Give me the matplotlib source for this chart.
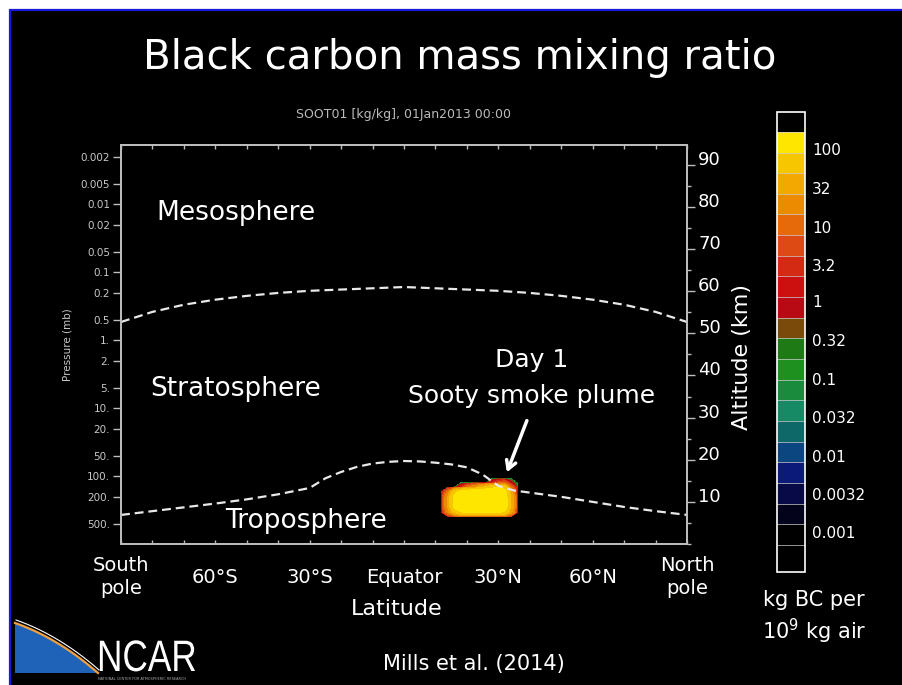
import numpy as np
import matplotlib
matplotlib.use("Agg")
import matplotlib.pyplot as plt
from matplotlib.colors import ListedColormap, BoundaryNorm
from matplotlib.cm import ScalarMappable
from matplotlib.patches import Rectangle, Polygon, PathPatch
from matplotlib.ticker import MultipleLocator, NullLocator
from matplotlib.textpath import TextPath
from matplotlib.font_manager import FontProperties
from matplotlib.transforms import Affine2D

plt.rcParams['font.family'] = ['DejaVu Sans']

W, H = 902, 685
SCALE_HEIGHT = 7.0                 # km, used to tie altitude to log-pressure
P_SURF, P_TOP = 1000.0, 0.00133    # mb

# axis ticks
lat_ticks = [-90, -60, -30, 0, 30, 60, 90]
lat_labels = ['South\npole', '60°S', '30°S', 'Equator', '30°N', '60°N', 'North\npole']
p_ticks = [0.002, 0.005, 0.01, 0.02, 0.05, 0.1, 0.2, 0.5, 1, 2, 5, 10, 20, 50, 100, 200, 500]
p_labels = ['0.002', '0.005', '0.01', '0.02', '0.05', '0.1', '0.2', '0.5', '1.', '2.',
            '5.', '10.', '20.', '50.', '100.', '200.', '500.']
alt_ticks = [10, 20, 30, 40, 50, 60, 70, 80, 90]

# stratopause and tropopause height (km) vs latitude
strat_lat = [-90, -80, -70, -60, -50, -40, -30, -20, -10, 0, 10, 20, 30, 40, 50, 60, 70, 80, 90]
strat_alt = [52.7, 55.1, 56.8, 58.0, 58.9, 59.6, 60.1, 60.4, 60.7, 61.0,
             60.7, 60.4, 60.1, 59.6, 58.9, 58.0, 56.8, 55.1, 52.7]
trop_lat = [-90, -80, -70, -60, -50, -40, -30, -25, -20, -15, -10, -5, 0,
            5, 10, 15, 20, 25, 30, 35, 40, 50, 60, 70, 80, 90]
trop_alt = [6.9, 7.8, 8.7, 9.6, 10.6, 11.8, 13.3, 15.6, 17.1, 18.3, 19.1, 19.5, 19.7,
            19.6, 19.3, 18.9, 18.2, 16.5, 13.8, 12.7, 12.2, 11.2, 10.0, 8.8, 7.8, 6.9]

# BC mixing ratio on day 1 (kg BC per 1e9 kg air)
plume_lat = [10, 12, 14, 16, 18, 20, 22, 24, 26, 28, 30, 32, 34, 36, 38, 40]
plume_alt = [5.5, 6.5, 7.5, 8.5, 9.5, 10.5, 11.5, 12.5, 13.5, 14.5, 15.5]
plume_bc = [
    [0, 0, 0, 0, 0, 0, 0, 0, 0, 0, 0, 0, 0, 0, 0, 0],
    [0, 0, 0, 0, 0, 0, 0, 0, 0, 0, 0, 0, 0, 0, 0, 0],
    [0, 0, 15, 50, 80, 90, 90, 90, 90, 90, 90, 80, 30, 0, 0, 0],
    [0, 0, 25, 90, 130, 140, 140, 140, 140, 140, 135, 115, 40, 0, 0, 0],
    [0, 0, 30, 100, 140, 150, 150, 150, 150, 150, 145, 120, 45, 0, 0, 0],
    [0, 0, 30, 100, 140, 150, 150, 150, 150, 150, 145, 120, 45, 0, 0, 0],
    [0, 0, 25, 95, 135, 145, 145, 145, 145, 145, 140, 115, 40, 0, 0, 0],
    [0, 0, 10, 60, 100, 120, 125, 130, 130, 130, 125, 105, 30, 0, 0, 0],
    [0, 0, 0, 0, 2, 10, 20, 35, 55, 75, 85, 70, 10, 0, 0, 0],
    [0, 0, 0, 0, 0, 0, 0, 0, 0, 2, 6, 8, 1, 0, 0, 0],
    [0, 0, 0, 0, 0, 0, 0, 0, 0, 0, 0, 0, 0, 0, 0, 0],
]

# contour levels and colours (bottom to top)
levels = [0.00065, 0.0012, 0.0023, 0.0042, 0.0079, 0.015, 0.027, 0.051, 0.095, 0.18,
          0.33, 0.61, 1.1, 2.1, 4.0, 7.4, 14, 26, 48, 88, 165]
band_colors = ['#000000', '#03031c', '#070a46', '#0b1a78', '#0c4680', '#0f6868',
               '#168a64', '#1a8a3c', '#1e9020', '#1e7a14', '#7a4a0a', '#b80a14',
               '#cc1010', '#d42a14', '#de4a14', '#e66a0a', '#ec8a00', '#f2a800',
               '#f7c600', '#ffe600']
cbar_ticks = [0.001, 0.0032, 0.01, 0.032, 0.1, 0.32, 1, 3.2, 10, 32, 100]
cbar_labels = ['0.001', '0.0032', '0.01', '0.032', '0.1', '0.32', '1', '3.2', '10', '32', '100']

fig = plt.figure(figsize=(W / 100, H / 100), dpi=100)
fig.patch.set_facecolor('white')

# background panel in pixel coordinates, blue edge only on top and left
bg = fig.add_axes([0, 0, 1, 1])
bg.set_xlim(0, W)
bg.set_ylim(H, 0)
bg.axis('off')
bg.add_patch(Rectangle((10, 10), W, H, facecolor='black', edgecolor='none'))
bg.plot([10, 10, W + 5], [H + 5, 10, 10], color='#1a1ad8', lw=1.6,
        solid_joinstyle='miter')

GRAY = '#bdbdbd'

ax = fig.add_axes([121 / W, 1 - 544 / H, 566 / W, 399 / H])
ax.set_facecolor('none')
ax.set_xlim(-90, 90)
ax.set_yscale('log')
ax.set_ylim(P_SURF, P_TOP)
ax.set_yticks(p_ticks)
ax.set_yticklabels(p_labels)
ax.yaxis.set_minor_locator(NullLocator())
ax.set_xticks(lat_ticks)
ax.set_xticklabels(lat_labels)
ax.xaxis.set_minor_locator(MultipleLocator(10))
ax.tick_params(axis='y', which='major', direction='out', length=6, width=1,
               color=GRAY, labelsize=7.5, labelcolor='#c8c8c8', pad=2)
ax.tick_params(axis='x', which='both', direction='in', length=3, width=1, top=True,
               color=GRAY, labelsize=14, labelcolor='white', pad=23.8)
for lbl in ax.get_xticklabels():
    lbl.set_verticalalignment('center')
    lbl.set_linespacing(1.3)
for sp in ax.spines.values():
    sp.set_color(GRAY)
    sp.set_linewidth(1.3)

# altitude axis on the right
ax2 = ax.twinx()
ax2.set_ylim(0, SCALE_HEIGHT * np.log(P_SURF / P_TOP))
ax2.set_yticks(alt_ticks)
ax2.yaxis.set_minor_locator(MultipleLocator(5))
ax2.tick_params(axis='y', which='major', direction='out', length=6, width=1,
                color=GRAY, labelsize=13, labelcolor='white', pad=2)
ax2.tick_params(axis='y', which='minor', direction='out', length=3, width=1, color=GRAY)
for lbl in ax2.get_yticklabels():
    lbl.set_verticalalignment('baseline')
for sp in ax2.spines.values():
    sp.set_color(GRAY)
    sp.set_linewidth(1.3)

cmap = ListedColormap(band_colors)
cmap.set_over('black')
cmap.set_under('black')
norm = BoundaryNorm(levels, cmap.N)

ax2.contourf(plume_lat, plume_alt, np.array(plume_bc), levels=levels, cmap=cmap, norm=norm)
ax2.plot(strat_lat, strat_alt, color='#e8e8e8', lw=1.6, dashes=(4, 2.2))
ax2.plot(trop_lat, trop_alt, color='#e8e8e8', lw=1.6, dashes=(4, 2.2))
ax2.annotate('', xy=(32.4, 16.4), xytext=(39.4, 29.9),
             arrowprops=dict(arrowstyle='->,head_length=0.6,head_width=0.35',
                             color='white', lw=2.5))

# colour bar
cax = fig.add_axes([777 / W, 1 - 572 / H, 28 / W, 460 / H])
cb = fig.colorbar(ScalarMappable(norm=norm, cmap=cmap), cax=cax, extend='both',
                  extendrect=True, extendfrac=(0.065, 0.048), drawedges=True,
                  ticks=cbar_ticks)
cb.set_ticklabels(cbar_labels)
cb.outline.set_edgecolor('white')
cb.outline.set_linewidth(1.2)
cb.dividers.set_color('#cfcfcf')
cb.dividers.set_linewidth(0.5)
cax.tick_params(length=0, labelsize=11, labelcolor='white', pad=5)

# texts
txt = dict(ha='center', va='center', color='white')
bg.text(460, 58, 'Black carbon mass mixing ratio', fontsize=29, **txt)
bg.text(404, 114, 'SOOT01 [kg/kg], 01Jan2013 00:00', fontsize=9, ha='center',
        va='center', color='#bbbbbb')
bg.text(68, 345, 'Pressure (mb)', fontsize=7.5, rotation=90, ha='center', va='center',
        color='#c8c8c8')
bg.text(742, 357, 'Altitude (km)', fontsize=16, rotation=90, **txt)
bg.text(397, 609, 'Latitude', fontsize=16, **txt)
bg.text(236, 213, 'Mesosphere', fontsize=19, **txt)
bg.text(236, 389, 'Stratosphere', fontsize=19, **txt)
bg.text(306, 521, 'Troposphere', fontsize=19, **txt)
bg.text(532, 360, 'Day 1', fontsize=18, **txt)
bg.text(532, 396, 'Sooty smoke plume', fontsize=18, **txt)
bg.text(814, 600, 'kg BC per', fontsize=15, **txt)
bg.text(814, 631, '10$^9$ kg air', fontsize=15, **txt)
bg.text(474, 664, 'Mills et al. (2014)', fontsize=15, **txt)

# NCAR logo: blue swoosh plus narrow wordmark
t = np.linspace(0, 1, 40)
p0, pc, p2 = np.array([15, 623]), np.array([58, 638]), np.array([98, 673])
edge = ((1 - t) ** 2)[:, None] * p0 + (2 * t * (1 - t))[:, None] * pc + (t ** 2)[:, None] * p2
bg.add_patch(Polygon(np.vstack([edge, [[15, 673]]]), closed=True,
                     facecolor='#1f63b8', edgecolor='none'))
bg.plot(edge[:, 0], edge[:, 1], color='#f0a040', lw=1.6)
bg.plot(edge[:, 0] + 1, edge[:, 1] - 3, color='white', lw=0.8)
word = TextPath((0, 0), 'NCAR', size=44, prop=FontProperties(family='Liberation Sans'))
word = Affine2D().scale(0.8, -1).translate(97, 671).transform_path(word)
bg.add_patch(PathPatch(word, facecolor='white', edgecolor='none'))
bg.text(98, 679, 'NATIONAL CENTER FOR ATMOSPHERIC RESEARCH', fontsize=2.5,
        color='#aaaaaa', ha='left', va='center')

fig.savefig('out.png', dpi=100, facecolor=fig.get_facecolor())
